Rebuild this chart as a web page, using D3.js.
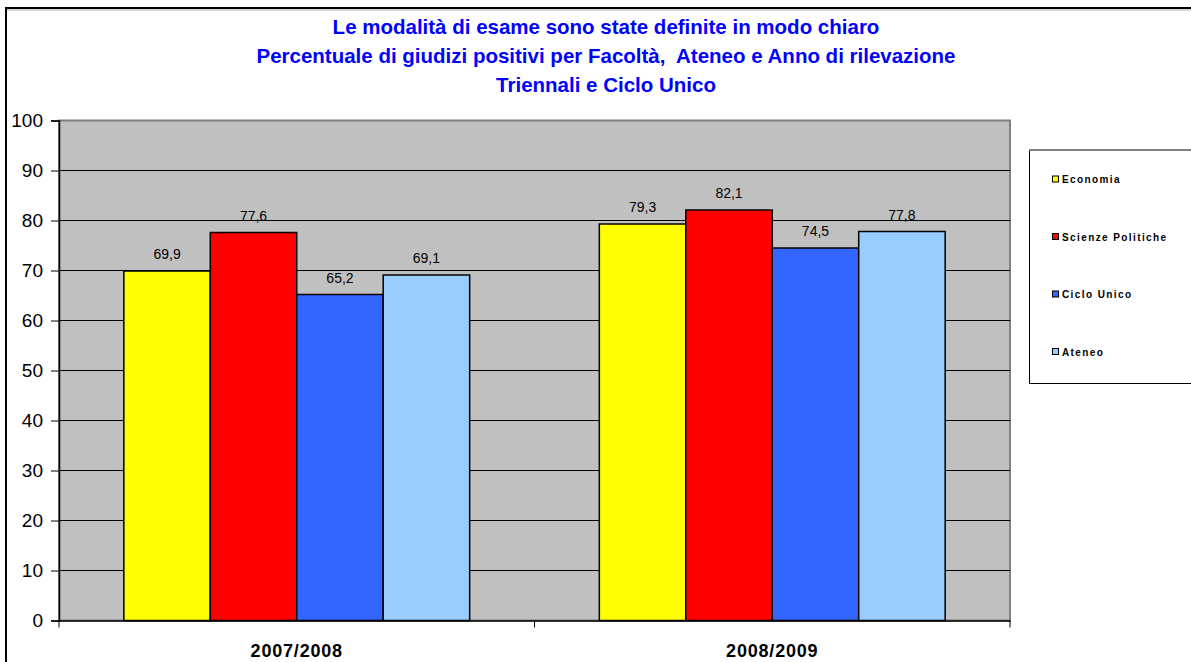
<!DOCTYPE html>
<html lang="it">
<head>
  <meta charset="UTF-8" />
  <title>Modalità di esame</title>
  <script src="https://d3js.org/d3.v7.min.js"></script>
  <style>
    body { margin: 0; background: #fff; font-family: "Liberation Sans", Arial, sans-serif; }
    svg { display: block; }
  </style>
</head>
<body>

<svg width="1191" height="662"></svg>

<script>
  const categories = ["2007/2008", "2008/2009"];
  const seriesNames = ["Economia", "Scienze Politiche", "Ciclo Unico", "Ateneo"];
  const economia = [69.9, 79.3];
  const scienzePolitiche = [77.6, 82.1];
  const cicloUnico = [65.2, 74.5];
  const ateneo = [69.1, 77.8];
  const yTicks = [0, 10, 20, 30, 40, 50, 60, 70, 80, 90, 100];
  const titleLines = [
    "Le modalità di esame sono state definite in modo chiaro",
    "Percentuale di giudizi positivi per Facoltà,  Ateneo e Anno di rilevazione",
    "Triennali e Ciclo Unico"
  ];
  const colors = ["#FFFF00", "#FF0000", "#3366FF", "#99CCFF"];

  const seriesValues = [economia, scienzePolitiche, cicloUnico, ateneo];
  const data = categories.map((c, i) => ({
    cat: c,
    values: seriesNames.map((s, j) => ({ name: s, value: seriesValues[j][i] }))
  }));

  const svg = d3.select("svg");
  const plot = { left: 59, right: 1010, top: 120.5, bottom: 620.5 };

  // outer chart border (continues past the window)
  svg.append("rect")
    .attr("x", 6).attr("y", 8)
    .attr("width", 1300).attr("height", 700)
    .attr("fill", "#fff")
    .attr("stroke", "#000").attr("stroke-width", 2);
  svg.append("line")
    .attr("x1", 7).attr("x2", 1191).attr("y1", 10).attr("y2", 10)
    .attr("stroke", "#aaa").attr("stroke-width", 1);

  // title
  svg.append("g").selectAll("text")
    .data(titleLines)
    .enter().append("text")
    .attr("x", 606)
    .attr("y", (d, i) => 33.5 + i * 29)
    .attr("text-anchor", "middle")
    .attr("font-size", 20.5)
    .attr("font-weight", "bold")
    .attr("fill", "#0000FF")
    .style("white-space", "pre")
    .text(d => d);

  const x0 = d3.scaleBand()
    .domain(categories)
    .range([plot.left, plot.right])
    .padding(0);

  const x1 = d3.scaleBand()
    .domain(seriesNames)
    .range([0, x0.bandwidth()])
    .paddingInner(0)
    .paddingOuter(0.75);

  const y = d3.scaleLinear()
    .domain([0, 100])
    .range([plot.bottom, plot.top]);

  const color = d3.scaleOrdinal().domain(seriesNames).range(colors);

  // plot background
  svg.append("rect")
    .attr("x", plot.left).attr("y", plot.top)
    .attr("width", plot.right - plot.left)
    .attr("height", plot.bottom - plot.top)
    .attr("fill", "#C0C0C0")
    .attr("stroke", "#808080").attr("stroke-width", 2);

  // gridlines
  svg.append("g").selectAll("line")
    .data(yTicks.filter(t => t > 0 && t < 100))
    .enter().append("line")
    .attr("x1", plot.left).attr("x2", plot.right)
    .attr("y1", d => y(d)).attr("y2", d => y(d))
    .attr("stroke", "#000").attr("stroke-width", 1);

  // bars
  const groups = svg.append("g").selectAll("g")
    .data(data)
    .enter().append("g")
    .attr("transform", d => `translate(${x0(d.cat)},0)`);

  groups.selectAll("rect")
    .data(d => d.values)
    .enter().append("rect")
    .attr("x", d => x1(d.name))
    .attr("y", d => y(d.value))
    .attr("width", x1.bandwidth())
    .attr("height", d => y(0) - y(d.value))
    .attr("fill", d => color(d.name))
    .attr("stroke", "#000").attr("stroke-width", 1.5);

  groups.selectAll("text")
    .data(d => d.values)
    .enter().append("text")
    .attr("x", d => x1(d.name) + x1.bandwidth() / 2)
    .attr("y", d => y(d.value) - 12)
    .attr("text-anchor", "middle")
    .attr("font-size", 14)
    .attr("fill", "#000")
    .text(d => d3.format(".1f")(d.value).replace(".", ","));

  // Y axis
  const yAxis = d3.axisLeft(y).tickValues(yTicks).tickSize(8).tickPadding(8);
  const gy = svg.append("g")
    .attr("transform", `translate(${plot.left},0)`)
    .call(yAxis);
  gy.select(".domain").attr("stroke", "#000").attr("stroke-width", 1.5);
  gy.selectAll(".tick line").attr("stroke", "#000");
  gy.selectAll(".tick text")
    .attr("font-size", 19)
    .attr("font-family", "Liberation Sans, Arial, sans-serif")
    .attr("fill", "#000");

  // X axis
  const xAxis = d3.axisBottom(x0).tickSize(0).tickPadding(24).tickSizeOuter(0);
  const gx = svg.append("g")
    .attr("transform", `translate(0,${plot.bottom})`)
    .call(xAxis);
  gx.select(".domain").attr("stroke", "#000").attr("stroke-width", 1.5);
  gx.selectAll(".tick text")
    .attr("font-size", 18)
    .attr("font-weight", "bold")
    .attr("letter-spacing", 0.8)
    .attr("font-family", "Liberation Sans, Arial, sans-serif")
    .attr("fill", "#000");

  // category separator ticks
  svg.append("g").selectAll("line")
    .data(categories.concat(["end"]))
    .enter().append("line")
    .attr("x1", (d, i) => plot.left + i * x0.bandwidth())
    .attr("x2", (d, i) => plot.left + i * x0.bandwidth())
    .attr("y1", plot.bottom).attr("y2", plot.bottom + 7)
    .attr("stroke", "#000").attr("stroke-width", 1);

  // legend
  const legend = svg.append("g");
  legend.append("rect")
    .attr("x", 1029.5).attr("y", 150.5)
    .attr("width", 170).attr("height", 233)
    .attr("fill", "#fff")
    .attr("stroke", "#000").attr("stroke-width", 1);
  legend.append("line")
    .attr("x1", 1029).attr("x2", 1191).attr("y1", 150).attr("y2", 150)
    .attr("stroke", "#808080").attr("stroke-width", 2);

  const items = legend.selectAll("g.item")
    .data(seriesNames)
    .enter().append("g")
    .attr("class", "item")
    .attr("transform", (d, i) => `translate(1052,${179.5 + i * 57.5})`);
  items.append("rect")
    .attr("x", 0.5).attr("y", -3.5)
    .attr("width", 6).attr("height", 6)
    .attr("fill", d => color(d))
    .attr("stroke", "#000").attr("stroke-width", 1);
  items.append("text")
    .attr("x", 10).attr("y", 3.5)
    .attr("font-size", 10)
    .attr("font-weight", "bold")
    .attr("letter-spacing", 1.4)
    .attr("fill", "#000")
    .text(d => d);
</script>

</body>
</html>
